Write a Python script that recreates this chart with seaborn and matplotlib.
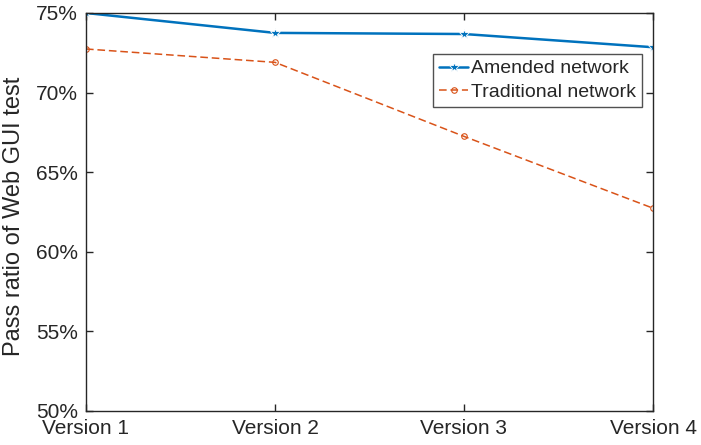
import numpy as np
import pandas as pd
import matplotlib
matplotlib.use("Agg")
import matplotlib.pyplot as plt
from matplotlib.ticker import PercentFormatter
import seaborn as sns

versions = ["Version 1", "Version 2", "Version 3", "Version 4"]
amended = [75.0, 73.75, 73.68, 72.85]
traditional = [72.74, 71.9, 67.25, 62.74]

sns.set_style("ticks")
plt.rcParams['font.family'] = ['Liberation Sans', 'DejaVu Sans']
plt.rcParams['font.size'] = 15

df = pd.DataFrame({
    'version': versions * 2,
    'ratio': amended + traditional,
    'series': ['Amended network'] * 4 + ['Traditional network'] * 4,
})
df['pos'] = df['version'].map({v: i for i, v in enumerate(versions)})

fig = plt.figure(figsize=(7.01, 4.45), dpi=100)
ax = fig.add_axes([86 / 701, 1 - 411 / 445, (653 - 86) / 701, (411 - 13) / 445])

sns.lineplot(data=df[df['series'] == 'Amended network'], x='pos', y='ratio',
             color='#0072BD', linewidth=1.8, marker='*', markersize=7,
             markeredgewidth=0.6, label='Amended network', ax=ax)
sns.lineplot(data=df[df['series'] == 'Traditional network'], x='pos', y='ratio',
             color='#D95319', linewidth=1.1, linestyle=(0, (5, 2.5)), marker='o',
             markersize=4, markerfacecolor='none', markeredgecolor='#D95319',
             markeredgewidth=0.8, label='Traditional network', ax=ax)

ax.set_xlim(0, 3)
ax.set_ylim(50, 75)
ax.set_xticks(range(len(versions)))
ax.set_xticklabels(versions)
ax.set_yticks([50, 55, 60, 65, 70, 75])
ax.yaxis.set_major_formatter(PercentFormatter(decimals=0))
ax.set_xlabel("")
ax.set_ylabel("Pass ratio of Web GUI test", fontsize=17, color='#262626')
ax.yaxis.set_label_coords(-0.108, 0.49)

for side in ['top', 'right', 'left', 'bottom']:
    ax.spines[side].set_visible(True)
    ax.spines[side].set_color('#262626')
    ax.spines[side].set_linewidth(1.0)
ax.tick_params(direction='in', top=True, right=True, length=5, width=1.0,
               colors='#262626', labelsize=15, pad=6)

leg = ax.legend(loc='upper right', bbox_to_anchor=(0.981, 0.897),
                frameon=True, fancybox=False, fontsize=14, handlelength=1.5,
                borderpad=0.3, labelspacing=0.3, handletextpad=0.15,
                borderaxespad=0)
leg.get_frame().set_edgecolor('#262626')
leg.get_frame().set_linewidth(1.0)

fig.savefig("out.png", dpi=100)
